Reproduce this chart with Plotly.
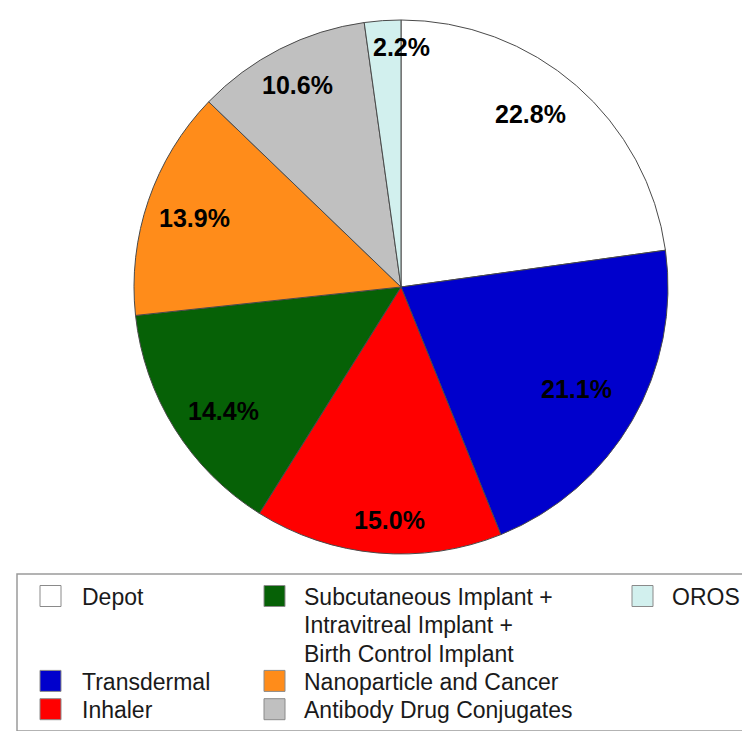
import math
import plotly.graph_objects as go

# ---------------- data ----------------
categories = [
    "Depot",
    "Transdermal",
    "Inhaler",
    "Subcutaneous Implant +<br>Intravitreal Implant +<br>Birth Control Implant",
    "Nanoparticle and Cancer",
    "Antibody Drug Conjugates",
    "OROS",
]
shares = [22.8, 21.1, 15.0, 14.4, 13.9, 10.6, 2.2]
colors = ["#FFFFFF", "#0000CC", "#FF0000", "#066106", "#FF8C1A", "#C0C0C0", "#D2F0EE"]

# label placement (fraction of radius, angular offset in degrees) - styling only
label_rfrac = [0.81, 0.76, 0.875, 0.81, 0.815, 0.85, 0.90]
label_dang = [-4.3, 0.0, -2.2, -2.8, -0.5, 0.0, 4.0]

# legend layout: (column, row) for each category
legend_pos = [(0, 0), (0, 3), (0, 4), (1, 0), (1, 3), (1, 4), (2, 0)]

W, H = 750, 731
FONT = "Arial, 'Liberation Sans', sans-serif"

dom_x = [0.168, 0.88]
dom_y = [0.2531, 0.9836]

fig = go.Figure()
fig.add_trace(go.Pie(
    labels=[c.replace("<br>", " ") for c in categories],
    values=shares,
    sort=False,
    direction="clockwise",
    rotation=0,
    marker=dict(colors=colors, line=dict(color="#4a4a4a", width=1)),
    textinfo="none",
    hoverinfo="label+percent",
    showlegend=False,
    domain=dict(x=dom_x, y=dom_y),
))

# pie geometry in pixels (derived from domain)
cx = (dom_x[0] + dom_x[1]) / 2 * W
cy = (1 - (dom_y[0] + dom_y[1]) / 2) * H
R = min((dom_x[1] - dom_x[0]) * W, (dom_y[1] - dom_y[0]) * H) / 2

annotations = []
total = sum(shares)
cum = 0.0
for i, v in enumerate(shares):
    mid = (cum + v / 2) / total * 360.0 + label_dang[i]
    cum += v
    r = R * label_rfrac[i]
    px = cx + r * math.sin(math.radians(mid))
    py = cy - r * math.cos(math.radians(mid))
    annotations.append(dict(
        x=px / W, y=1 - py / H, xref="paper", yref="paper",
        text=f"<b>{v:.1f}%</b>", showarrow=False,
        xanchor="center", yanchor="middle",
        font=dict(family=FONT, size=25, color="#000000", weight="bold"),
    ))

# ---------------- legend (drawn manually to reproduce 3-column layout) -------
shapes = []
leg_box = dict(x0=9, x1=742, y0=566, y1=723)
shapes.append(dict(type="rect", xref="paper", yref="paper",
                   x0=leg_box["x0"] / W, x1=leg_box["x1"] / W,
                   y0=1 - leg_box["y1"] / H, y1=1 - leg_box["y0"] / H,
                   line=dict(color="#9a9a9a", width=1.5), fillcolor="rgba(0,0,0,0)"))
col_box_x = [32, 256, 624]
col_text_x = [72, 294, 662]
row_y0 = 588
row_dy = 28.3
sw = 21

for i, name in enumerate(categories):
    col, row = legend_pos[i]
    yc = row_y0 + row * row_dy
    bx = col_box_x[col]
    shapes.append(dict(type="rect", xref="paper", yref="paper",
                       x0=bx / W, x1=(bx + sw) / W,
                       y0=1 - (yc + sw / 2) / H, y1=1 - (yc - sw / 2) / H,
                       line=dict(color="#8a8a8a", width=1), fillcolor=colors[i]))
    for k, line in enumerate(name.split("<br>")):
        ly = yc + k * row_dy
        annotations.append(dict(
            x=col_text_x[col] / W, y=1 - (ly + 1) / H, xref="paper", yref="paper",
            text=line, showarrow=False, xanchor="left", yanchor="middle",
            font=dict(family=FONT, size=23, color="#1a1a1a"),
        ))

fig.update_layout(
    width=W, height=H,
    margin=dict(l=0, r=0, t=0, b=0),
    paper_bgcolor="white",
    plot_bgcolor="white",
    annotations=annotations,
    shapes=shapes,
    showlegend=False,
)

fig.write_html("out.html")
